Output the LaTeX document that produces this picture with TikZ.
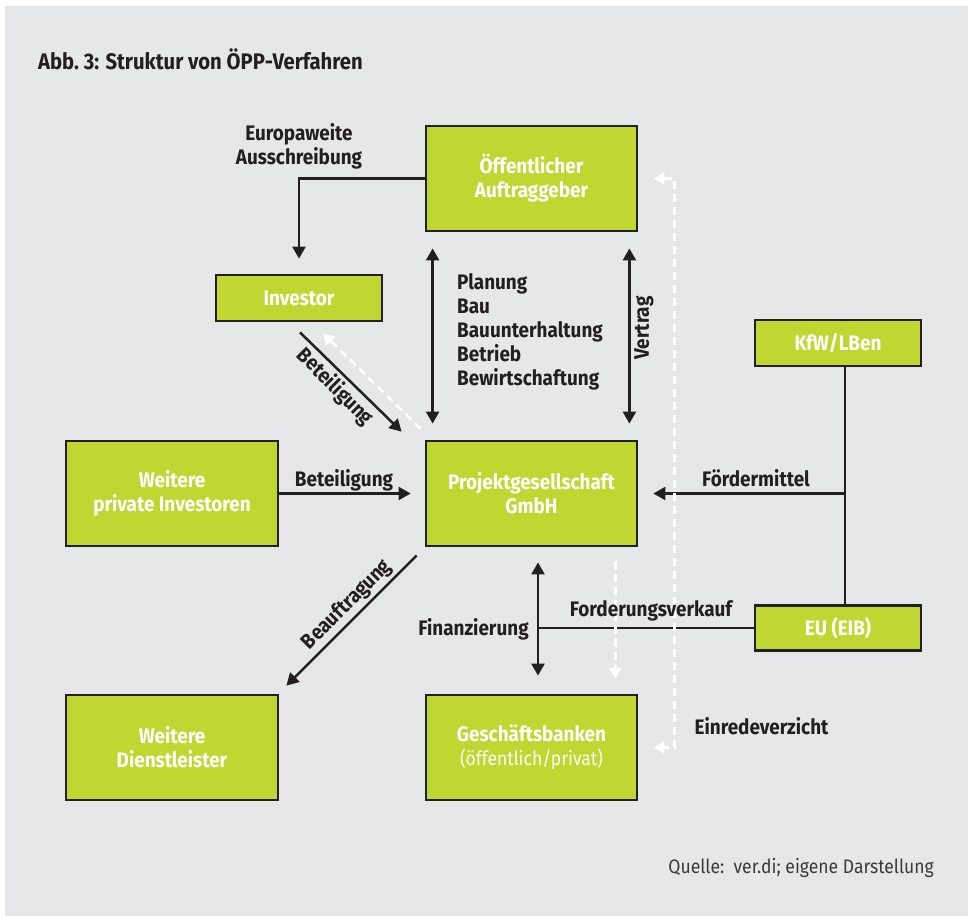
\documentclass[tikz,border=0pt]{standalone}
\usepackage{fontspec}
\setmainfont{Fira Sans}[FakeStretch=0.9]
\usetikzlibrary{arrows.meta,calc}
\definecolor{bggray}{HTML}{E6E7E8}
\definecolor{boxgreen}{HTML}{BFD730}
\definecolor{inkdark}{HTML}{231F20}
\definecolor{srcgray}{HTML}{3A3A3A}
\tikzset{
  box/.style={draw=inkdark, line width=2.8pt, fill=boxgreen, text=white,
    font=\bfseries\fontsize{21}{24}\selectfont, align=center, inner sep=0pt},
  lbl/.style={text=inkdark, font=\bfseries\fontsize{21}{24}\selectfont, align=center, inner sep=0pt},
  conn/.style={draw=inkdark, line width=2.5pt},
  arr/.style={conn, -{Triangle[length=12pt,width=13pt]}},
  darr/.style={conn, {Triangle[length=12pt,width=13pt]}-{Triangle[length=12pt,width=13pt]}},
  wdash/.style={draw=white, line width=2.5pt, dash pattern=on 8pt off 5pt},
  warr/.style={wdash, -{Triangle[length=11pt,width=12pt]}},
  wdarr/.style={wdash, {Triangle[length=11pt,width=12pt]}-{Triangle[length=11pt,width=12pt]}},
}
\begin{document}
\begin{tikzpicture}[x=1pt,y=-1pt]
\useasboundingbox (0,0) rectangle (968,916);
\fill[white] (0,0) rectangle (968,916);
\fill[bggray] (5,6) rectangle (968,916);

% title
\node[lbl, anchor=west, font=\bfseries\fontsize{22.5}{26}\selectfont] (title) at (38,59) {Abb.~3: Struktur von ÖPP-Verfahren};

% boxes
\node[box, minimum width=211pt, minimum height=105pt] (oeff) at (531.5,178.5) {Öffentlicher\\Auftraggeber};
\node[box, minimum width=166pt, minimum height=46pt] (inv) at (299,298) {Investor};
\node[box, minimum width=212pt, minimum height=105pt] (wpi) at (172,493.5) {Weitere\\private Investoren};
\node[box, minimum width=211pt, minimum height=105pt] (proj) at (531.5,493.5) {Projektgesellschaft\\GmbH};
\node[box, minimum width=166pt, minimum height=46pt] (kfw) at (838,343) {KfW/LBen};
\node[box, minimum width=166pt, minimum height=45pt] (eu) at (838,628) {EU (EIB)};
\node[box, minimum width=212pt, minimum height=105pt] (wdl) at (172,747.5) {Weitere\\Dienstleister};
\node[box, minimum width=211pt, minimum height=105pt] (gb) at (531.5,747.5) {Geschäftsbanken\\{\mdseries\fontsize{19.5}{24}\selectfont (öffentlich/privat)}};

% helper coordinates
\coordinate (kx) at ($(kfw.south)+(7,0)$);
\coordinate (fx) at ($(proj.south)+(6.5,0)$);

% connectors
\draw[arr] (oeff.west) -| ($(inv.north)+(0,-15)$);
\draw[darr] ($(oeff.south west)+(8,16)$) -- ($(proj.north west)+(8,-16)$);
\draw[darr] ($(oeff.south east)+(-9,16)$) -- ($(proj.north east)+(-9,-16)$);
\draw[arr] ($(inv.south)+(1,10)$) -- ($(proj.north west)+(-23,-8)$);
\draw[warr] ($(proj.north west)+(-4,-11)$) -- ($(inv.south)+(24,11)$);
\draw[arr] (wpi.east) -- ($(proj.west)+(-14,0)$);
\draw[arr] ($(proj.south west)+(-8,8)$) -- ($(wdl.north east)+(7,-8)$);
\draw[conn] (kx) -- ($(eu.north)+(7,0)$);
\draw[arr] (kx |- proj.east) -- ($(proj.east)+(15,0)$);
\draw[darr] ($(fx)+(0,15)$) -- ($(gb.north)+(6.5,-18)$);
\draw[conn] (fx |- eu.west) -- (eu.west);
\draw[warr] ($(proj.south east)+(-23,14)$) -- ($(gb.north east)+(-23,-15)$);
\draw[wdarr] ($(oeff.east)+(15,0)$) -- ($(oeff.east)+(36,0)$) -- ($(gb.east)+(36,0)$) -- ($(gb.east)+(15,0)$);

% labels
\node[lbl] (l-eu) at (299,146.5) {Europaweite\\Ausschreibung};
\node[lbl, anchor=west, align=left] (l-plan) at (457,332) {Planung\\Bau\\Bauunterhaltung\\Betrieb\\Bewirtschaftung};
\node[lbl, rotate=90] (l-vertrag) at (644,328) {Vertrag};
\node[lbl, rotate=-45] (l-bet1) at (335,387) {Beteiligung};
\node[lbl] (l-bet2) at (344,480) {Beteiligung};
\node[lbl, rotate=45] (l-beauf) at (347,605) {Beauftragung};
\node[lbl] (l-foerd) at (756,478) {Fördermittel};
\node[lbl] (l-ford) at (651,611) {Forderungsverkauf};
\node[lbl] (l-fin) at (473.5,629) {Finanzierung};
\node[lbl] (l-einr) at (761.5,726) {Einredeverzicht};
\node[anchor=east, inner sep=0pt, text=srcgray, font=\fontsize{19.5}{23}\selectfont] (src) at (934,868) {Quelle:\ \ ver.di; eigene Darstellung};
\end{tikzpicture}
\end{document}
